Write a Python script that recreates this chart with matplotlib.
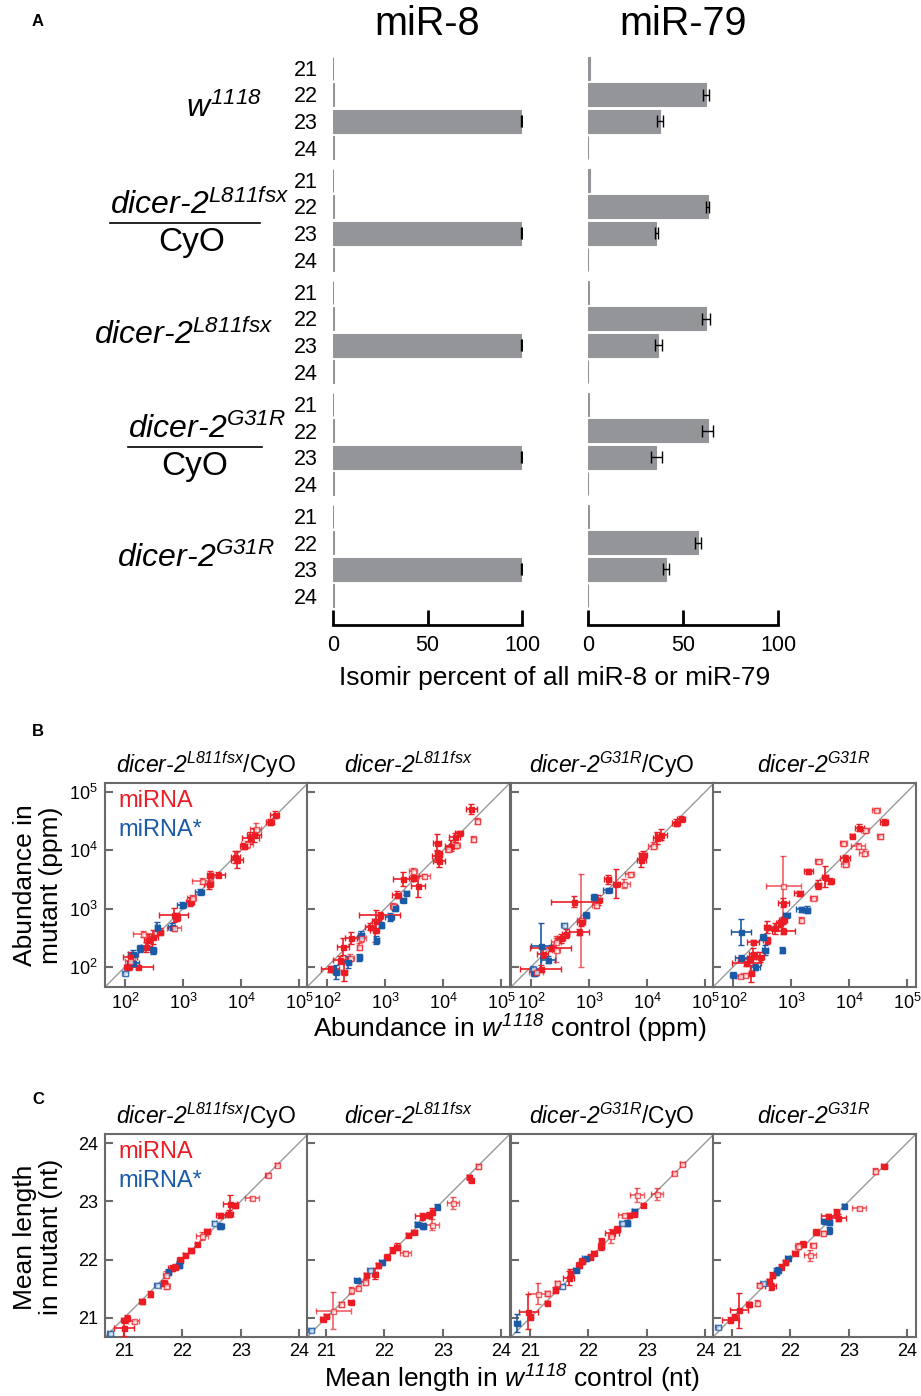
import numpy as np
import matplotlib
matplotlib.use('Agg')
import matplotlib.pyplot as plt
from matplotlib.lines import Line2D

plt.rcParams['font.family'] = ['Liberation Sans', 'DejaVu Sans']
plt.rcParams['mathtext.fontset'] = 'custom'
# math text is only used for the italic gene names; upright math uses \mathregular
plt.rcParams['mathtext.rm'] = 'Liberation Sans:italic'
plt.rcParams['mathtext.it'] = 'Liberation Sans:italic'
plt.rcParams['mathtext.bf'] = 'Liberation Sans:bold'

# ---------------- data ----------------
# panel A: isomir percent (21, 22, 23, 24 nt) per genotype
lengths = ['21', '22', '23', '24']
mir8 = [[0, 0.4, 99.6, 0.4]] * 5
mir8_err = [[0, 0, 0.3, 0]] * 5
mir79 = [[1.0, 62, 38, 0],
         [1.0, 63, 36, 0],
         [0.5, 62, 37, 0],
         [0.5, 63, 36, 0],
         [0.5, 58, 41, 0]]
mir79_err = [[0, 1.5, 1.5, 0],
             [0, 0.8, 0.8, 0],
             [0, 2.0, 2.0, 0],
             [0, 3.0, 3.0, 0],
             [0, 1.5, 1.5, 0]]

# panel B: (log10 control ppm, log10 mutant ppm, x err, y err, kind)
# kind: r = miRNA, R = miRNA (light), b = miRNA*, B = miRNA* (light)
B_L811_CYO = [
    (4.58, 4.61, .08, .06, 'r'), (4.50, 4.48, .07, .05, 'r'), (4.25, 4.37, .10, .10, 'R'),
    (4.22, 4.27, .12, .12, 'r'), (4.16, 4.21, .15, .10, 'r'), (4.10, 4.10, .10, .06, 'R'),
    (4.05, 4.07, .06, .05, 'r'), (3.90, 3.89, .08, .10, 'r'), (3.93, 3.84, .10, .15, 'r'),
    (3.61, 3.58, .12, .04, 'r'), (3.47, 3.58, .05, .06, 'r'), (3.44, 3.43, .07, .09, 'r'),
    (3.33, 3.47, .18, .05, 'R'), (3.29, 3.29, .08, .04, 'b'), (3.12, 3.12, .07, .08, 'r'),
    (3.15, 3.18, .08, .05, 'R'), (2.98, 3.06, .08, .05, 'b'), (2.89, 2.86, .05, .07, 'r'),
    (2.84, 2.89, .25, .12, 'r'), (2.81, 2.69, .06, .06, 'b'), (2.84, 2.66, .12, .04, 'R'),
    (2.60, 2.60, .05, .06, 'r'), (2.55, 2.69, .04, .08, 'b'), (2.49, 2.52, .08, .12, 'r'),
    (2.40, 2.46, .07, .10, 'r'), (2.32, 2.57, .18, .05, 'R'), (2.37, 2.34, .10, .08, 'r'),
    (2.26, 2.32, .06, .06, 'b'), (2.49, 2.29, .05, .06, 'b'), (2.14, 2.23, .08, .06, 'b'),
    (2.09, 2.17, .12, .08, 'r'), (2.23, 2.00, .25, .04, 'r'), (2.06, 2.00, .06, .05, 'r'),
    (2.14, 2.06, .10, .05, 'b'), (2.00, 1.89, .05, .04, 'B'), (2.09, 2.11, .08, .10, 'R'),
]
B_L811 = [
    (4.49, 4.71, .10, .08, 'r'), (4.59, 4.50, .04, .05, 'R'), (4.52, 4.19, .04, .05, 'R'),
    (4.28, 4.29, .07, .04, 'r'), (4.20, 4.22, .10, .08, 'r'), (4.14, 4.08, .10, .10, 'r'),
    (4.09, 4.02, .06, .05, 'R'), (4.22, 4.09, .08, .05, 'R'), (3.89, 4.13, .07, .15, 'r'),
    (3.93, 3.93, .06, .05, 'r'), (3.89, 3.90, .08, .10, 'r'), (3.93, 3.81, .10, .09, 'r'),
    (3.68, 3.56, .10, .04, 'R'), (3.48, 3.64, .07, .06, 'R'), (3.48, 3.53, .06, .05, 'r'),
    (3.31, 3.50, .18, .12, 'r'), (3.57, 3.38, .12, .18, 'r'), (3.37, 3.27, .05, .04, 'b'),
    (3.31, 3.15, .05, .04, 'b'), (3.20, 3.24, .08, .06, 'r'), (3.14, 3.04, .06, .05, 'R'),
    (3.17, 3.01, .05, .05, 'b'), (3.08, 2.85, .08, .07, 'b'), (2.91, 2.89, .35, .06, 'r'),
    (2.85, 2.78, .08, .20, 'r'), (2.94, 2.72, .05, .05, 'b'), (2.82, 2.63, .07, .20, 'r'),
    (2.85, 2.46, .04, .07, 'b'), (2.74, 2.69, .08, .06, 'r'), (2.59, 2.55, .05, .07, 'b'),
    (2.59, 2.49, .08, .07, 'R'), (2.42, 2.50, .10, .10, 'r'), (2.56, 2.35, .05, .06, 'R'),
    (2.28, 2.35, .10, .15, 'r'), (2.56, 2.17, .04, .06, 'b'), (2.39, 2.16, .08, .06, 'R'),
    (2.36, 2.09, .06, .10, 'b'), (2.22, 2.12, .12, .07, 'r'), (2.10, 1.97, .06, .05, 'b'),
    (2.05, 1.97, .15, .05, 'r'), (2.16, 1.91, .05, .12, 'b'), (2.30, 1.91, .05, .15, 'r'),
]
B_G31R_CYO = [
    (4.59, 4.54, .07, .04, 'r'), (4.50, 4.47, .07, .06, 'r'), (4.24, 4.27, .10, .10, 'r'),
    (4.18, 4.21, .08, .10, 'r'), (4.10, 4.08, .08, .06, 'R'), (3.93, 3.92, .07, .07, 'r'),
    (3.90, 3.84, .08, .12, 'r'), (3.70, 3.59, .08, .04, 'R'), (3.60, 3.43, .10, .08, 'R'),
    (3.47, 3.43, .06, .25, 'r'), (3.32, 3.50, .06, .08, 'r'), (3.32, 3.32, .08, .04, 'b'),
    (3.15, 3.15, .08, .08, 'r'), (3.12, 3.06, .06, .05, 'R'), (3.09, 3.20, .05, .05, 'b'),
    (2.95, 2.89, .05, .05, 'b'), (2.87, 2.80, .07, .80, 'R'), (2.75, 3.12, .40, .10, 'r'),
    (2.86, 2.77, .07, .06, 'r'), (2.83, 2.60, .17, .05, 'r'), (2.57, 2.72, .05, .04, 'B'),
    (2.60, 2.57, .06, .08, 'r'), (2.52, 2.49, .07, .08, 'r'), (2.43, 2.43, .08, .10, 'R'),
    (2.34, 2.32, .35, .05, 'r'), (2.43, 2.29, .07, .20, 'R'), (2.17, 2.36, .17, .40, 'b'),
    (2.20, 2.23, .10, .08, 'r'), (2.17, 1.97, .35, .06, 'r'), (2.03, 1.97, .05, .05, 'B'),
    (2.06, 1.89, .06, .04, 'b'), (2.09, 1.91, .12, .05, 'R'), (2.29, 2.12, .12, .06, 'b'),
]
B_G31R = [
    (4.47, 4.69, .07, .04, 'R'), (4.60, 4.48, .07, .05, 'r'), (4.53, 4.24, .05, .04, 'R'),
    (4.28, 4.34, .07, .05, 'R'), (4.18, 4.39, .08, .06, 'r'), (4.05, 4.25, .03, .03, 'r'),
    (3.90, 4.12, .06, .04, 'R'), (4.16, 4.08, .12, .05, 'R'), (4.25, 3.96, .08, .06, 'R'),
    (3.93, 3.86, .08, .06, 'r'), (3.93, 3.77, .07, .05, 'R'), (3.47, 3.81, .06, .04, 'R'),
    (3.30, 3.64, .08, .04, 'r'), (3.67, 3.47, .08, .05, 'r'), (3.59, 3.55, .05, .18, 'r'),
    (3.47, 3.41, .05, .08, 'r'), (3.38, 3.18, .06, .04, 'R'), (2.87, 3.38, .30, .52, 'R'),
    (2.87, 3.10, .10, .08, 'r'), (3.13, 3.26, .08, .05, 'r'), (3.18, 2.99, .10, .04, 'b'),
    (3.27, 2.98, .06, .06, 'b'), (3.17, 2.81, .04, .05, 'R'), (2.92, 2.89, .06, .04, 'b'),
    (2.87, 2.80, .07, .06, 'r'), (2.81, 2.75, .06, .06, 'r'), (2.72, 2.66, .06, .10, 'r'),
    (2.87, 2.62, .20, .05, 'r'), (2.58, 2.69, .05, .10, 'r'), (2.14, 2.60, .17, .23, 'b'),
    (2.58, 2.46, .06, .06, 'r'), (2.52, 2.51, .05, .05, 'b'), (2.35, 2.43, .10, .04, 'r'),
    (2.84, 2.29, .03, .05, 'b'), (2.55, 2.29, .05, .08, 'b'), (2.35, 2.23, .07, .10, 'r'),
    (2.46, 2.17, .07, .08, 'r'), (2.29, 2.14, .20, .04, 'r'), (2.14, 2.16, .10, .04, 'b'),
    (2.38, 2.00, .08, .05, 'b'), (2.23, 2.06, .25, .04, 'r'), (2.32, 1.89, .05, .15, 'r'),
    (2.20, 1.86, .06, .03, 'R'), (2.00, 1.87, .05, .04, 'b'), (2.12, 1.84, .06, .03, 'R'),
]

# panel C: (mean length control, mean length mutant, x err, y err, kind)
C_L811_CYO = [
    (23.62, 23.63, .04, .03, 'R'), (23.46, 23.45, .04, .04, 'R'), (23.20, 23.05, .12, .03, 'R'),
    (22.91, 22.93, .04, .04, 'r'), (22.81, 22.96, .12, .15, 'r'), (22.80, 22.79, .06, .06, 'r'),
    (22.65, 22.76, .08, .04, 'r'), (22.54, 22.63, .04, .04, 'B'), (22.65, 22.58, .06, .05, 'b'),
    (22.42, 22.49, .05, .04, 'r'), (22.34, 22.40, .10, .07, 'R'), (22.25, 22.26, .03, .03, 'r'),
    (22.14, 22.16, .05, .04, 'r'), (22.05, 22.08, .04, .04, 'r'), (21.96, 22.00, .05, .05, 'r'),
    (21.94, 21.91, .05, .06, 'b'), (21.88, 21.88, .05, .05, 'r'), (21.82, 21.85, .06, .05, 'r'),
    (21.76, 21.79, .04, .05, 'b'), (21.71, 21.74, .05, .06, 'R'), (21.68, 21.60, .05, .05, 'r'),
    (21.56, 21.56, .05, .04, 'B'), (21.71, 21.55, .08, .05, 'R'), (21.45, 21.41, .03, .05, 'r'),
    (21.30, 21.28, .04, .04, 'r'), (21.05, 21.00, .04, .05, 'r'), (20.99, 20.96, .04, .04, 'r'),
    (21.00, 20.83, .17, .15, 'r'), (21.16, 20.94, .10, .03, 'R'), (20.76, 20.74, .05, .04, 'B'),
]
C_L811 = [
    (23.61, 23.60, .04, .04, 'R'), (23.45, 23.42, .03, .03, 'r'), (23.48, 23.36, .03, .03, 'r'),
    (23.18, 22.97, .10, .10, 'R'), (22.90, 22.91, .04, .04, 'b'), (22.81, 22.82, .03, .06, 'r'),
    (22.76, 22.77, .04, .05, 'r'), (22.64, 22.74, .12, .06, 'r'), (22.82, 22.60, .12, .10, 'R'),
    (22.56, 22.61, .04, .04, 'b'), (22.66, 22.57, .05, .05, 'b'), (22.50, 22.47, .05, .03, 'r'),
    (22.41, 22.42, .04, .04, 'r'), (22.21, 22.22, .05, .06, 'r'), (22.13, 22.17, .04, .05, 'r'),
    (22.36, 22.11, .10, .04, 'R'), (22.04, 22.05, .04, .05, 'r'), (21.95, 21.95, .04, .04, 'b'),
    (21.89, 21.90, .04, .04, 'r'), (21.75, 21.82, .05, .04, 'B'), (21.83, 21.76, .04, .10, 'r'),
    (21.69, 21.73, .04, .04, 'r'), (21.66, 21.61, .06, .05, 'R'), (21.52, 21.64, .04, .03, 'b'),
    (21.55, 21.51, .03, .03, 'R'), (21.43, 21.47, .03, .06, 'R'), (21.42, 21.27, .04, .02, 'r'),
    (21.26, 21.23, .04, .04, 'R'), (21.12, 21.12, .30, .32, 'R'), (21.00, 21.03, .04, .04, 'r'),
    (20.94, 20.98, .04, .03, 'r'), (20.74, 20.79, .05, .04, 'B'),
]
C_G31R_CYO = [
    (23.61, 23.64, .04, .03, 'R'), (23.47, 23.48, .04, .03, 'R'), (23.18, 23.12, .10, .10, 'R'),
    (22.84, 23.10, .12, .12, 'R'), (22.93, 22.93, .03, .03, 'r'), (22.79, 22.83, .04, .04, 'b'),
    (22.79, 22.79, .04, .05, 'r'), (22.70, 22.76, .04, .04, 'r'), (22.61, 22.76, .10, .03, 'R'),
    (22.67, 22.63, .05, .05, 'b'), (22.57, 22.63, .04, .04, 'B'), (22.49, 22.53, .05, .04, 'r'),
    (22.41, 22.46, .12, .05, 'r'), (22.38, 22.40, .05, .12, 'R'), (22.22, 22.31, .04, .06, 'r'),
    (22.21, 22.23, .05, .06, 'r'), (22.09, 22.11, .04, .04, 'r'), (22.03, 22.05, .04, .04, 'r'),
    (21.95, 22.02, .06, .04, 'b'), (21.89, 21.97, .05, .05, 'r'), (21.83, 21.91, .05, .05, 'r'),
    (21.78, 21.82, .05, .04, 'b'), (21.69, 21.77, .05, .06, 'r'), (21.66, 21.68, .10, .12, 'r'),
    (21.55, 21.54, .05, .04, 'B'), (21.46, 21.59, .03, .04, 'R'), (21.43, 21.48, .04, .05, 'r'),
    (21.29, 21.42, .04, .04, 'R'), (21.13, 21.41, .17, .18, 'R'), (21.28, 21.26, .03, .03, 'r'),
    (20.97, 21.10, .17, .30, 'r'), (21.00, 21.02, .04, .04, 'r'), (20.77, 20.91, .05, .15, 'b'),
]
C_G31R = [
    (23.61, 23.61, .05, .03, 'r'), (23.45, 23.52, .03, .05, 'R'), (23.18, 22.88, .12, .03, 'R'),
    (22.92, 22.92, .03, .04, 'b'), (22.79, 22.81, .04, .05, 'r'), (22.82, 22.72, .13, .06, 'r'),
    (22.57, 22.67, .05, .03, 'b'), (22.67, 22.64, .04, .04, 'b'), (22.64, 22.74, .12, .04, 'r'),
    (22.67, 22.50, .03, .06, 'b'), (22.56, 22.45, .04, .04, 'R'), (22.44, 22.47, .05, .05, 'r'),
    (22.38, 22.25, .05, .03, 'R'), (22.33, 22.07, .10, .10, 'R'), (22.21, 22.27, .04, .05, 'r'),
    (22.13, 22.23, .05, .05, 'R'), (22.07, 22.11, .04, .04, 'r'), (21.95, 22.02, .05, .04, 'b'),
    (21.91, 21.95, .04, .04, 'r'), (21.84, 21.88, .04, .04, 'r'), (21.78, 21.82, .04, .05, 'b'),
    (21.75, 21.79, .04, .06, 'b'), (21.69, 21.74, .04, .05, 'r'), (21.63, 21.63, .03, .04, 'r'),
    (21.66, 21.54, .10, .06, 'r'), (21.52, 21.59, .04, .03, 'B'), (21.46, 21.56, .04, .04, 'R'),
    (21.43, 21.25, .03, .05, 'R'), (21.28, 21.23, .04, .04, 'r'), (21.12, 21.13, .15, .30, 'r'),
    (21.03, 21.02, .04, .04, 'r'), (20.97, 20.97, .15, .05, 'r'), (20.76, 20.84, .05, .04, 'B'),
]

titles = [r'$dicer\text{-}2^{L811fsx}$/CyO',
          r'$dicer\text{-}2^{L811fsx}$',
          r'$dicer\text{-}2^{G31R}$/CyO',
          r'$dicer\text{-}2^{G31R}$']
B_sets = [B_L811_CYO, B_L811, B_G31R_CYO, B_G31R]
C_sets = [C_L811_CYO, C_L811, C_G31R_CYO, C_G31R]

RED = '#EC1C24'
BLUE = '#1B5AA6'
BAR = '#939598'
SPINE = '#6a6a6a'

W, H = 921, 1396
fig = plt.figure(figsize=(W / 100, H / 100), dpi=100)


def ax_at(x0, y0, x1, y1):
    return fig.add_axes([x0 / W, 1 - y1 / H, (x1 - x0) / W, (y1 - y0) / H])


def ftext(x, y, s, **kw):
    fig.text(x / W, 1 - y / H, s, **kw)


# ---------------- panel A ----------------
row_y = [68 + g * 112 + i * 26.5 for g in range(5) for i in range(4)]
for x0, x1, vals, errs, name, cx in [(333, 522, mir8, mir8_err, 'miR-8', 427),
                                      (588, 778, mir79, mir79_err, 'miR-79', 683)]:
    ax = ax_at(x0, 50, x1, 625)
    v = np.ravel(vals)
    e = np.ravel(errs)
    ax.barh(row_y, v, height=23, color=BAR, edgecolor=BAR, linewidth=0.8,
            xerr=np.where(e > 0, e, np.nan),
            error_kw=dict(ecolor='black', elinewidth=1, capsize=4, capthick=1))
    ax.set_xlim(0, 100)
    ax.set_ylim(625, 50)
    for s in ['left', 'top', 'right']:
        ax.spines[s].set_visible(False)
    ax.spines['bottom'].set_linewidth(2)
    ax.set_xticks([0, 50, 100])
    ax.tick_params(axis='x', direction='in', length=11, width=2, labelsize=15.5, pad=7)
    if name == 'miR-8':
        ax.set_yticks(row_y)
        ax.set_yticklabels(lengths * 5, fontsize=15.5)
        ax.tick_params(axis='y', length=0, pad=11)
    else:
        ax.set_yticks([])
    ftext(cx, 24, name, fontsize=28.5, ha='center', va='center')

ftext(555, 678, 'Isomir percent of all miR-8 or miR-79', fontsize=19, ha='center', va='center')
ftext(38, 22, 'A', fontsize=12, fontweight='bold', ha='center', va='center')

geno_it = r'$dicer\text{-}2^{%s}$'
ftext(262, 108, r'$w^{1118}$', fontsize=23, ha='right', va='center')
ftext(110, 205, geno_it % 'L811fsx', fontsize=23, ha='left', va='center')
ftext(192, 243, 'CyO', fontsize=24, ha='center', va='center')
ftext(273, 335, geno_it % 'L811fsx', fontsize=23, ha='right', va='center')
ftext(128, 429, geno_it % 'G31R', fontsize=23, ha='left', va='center')
ftext(195, 467, 'CyO', fontsize=24, ha='center', va='center')
ftext(275, 558, geno_it % 'G31R', fontsize=23, ha='right', va='center')
for lx0, lx1, ly in [(110, 260, 223), (128, 262, 447)]:
    fig.add_artist(Line2D([lx0 / W, lx1 / W], [1 - ly / H, 1 - ly / H],
                          transform=fig.transFigure, color='black', lw=1.2))


# ---------------- panels B and C ----------------
def draw_points(ax, pts, logscale):
    for x, y, xe, ye, k in pts:
        col = RED if k in 'rR' else BLUE
        light = k in 'RB'
        if logscale:
            X, Y = 10 ** x, 10 ** y
            xerr = [[X - 10 ** (x - xe)], [10 ** (x + xe) - X]]
            yerr = [[Y - 10 ** (y - ye)], [10 ** (y + ye) - Y]]
        else:
            X, Y = x, y
            xerr, yerr = xe, ye
        ax.errorbar(X, Y, xerr=xerr, yerr=yerr, fmt='s', ms=3.6,
                    mfc='white' if light else col, mec=col, mew=1.0,
                    ecolor=col, elinewidth=1.2, capsize=2.5, capthick=1.2,
                    alpha=0.7 if light else 1.0, zorder=3)


lefts = [105, 307, 511, 713]
for row, (sets, top, bot, logscale) in enumerate([(B_sets, 783, 987, True),
                                                   (C_sets, 1134, 1337, False)]):
    for i, pts in enumerate(sets):
        ax = ax_at(lefts[i], top, lefts[i] + 203, bot)
        if logscale:
            lo, hi = 10 ** 1.657, 10 ** 5.154
            ax.set_xscale('log')
            ax.set_yscale('log')
            ticks = [1e2, 1e3, 1e4, 1e5]
            labels = [r'$\mathregular{10^{%d}}$' % n for n in range(2, 6)]
        else:
            lo, hi = 20.67, 24.155
            ticks = [21, 22, 23, 24]
            labels = ['21', '22', '23', '24']
        ax.plot([lo, hi], [lo, hi], color='#9a9a9a', lw=1, zorder=1)
        draw_points(ax, pts, logscale)
        ax.set_xlim(lo, hi)
        ax.set_ylim(lo, hi)
        ax.minorticks_off()
        ax.set_xticks(ticks)
        ax.set_xticklabels(labels)
        ax.set_yticks(ticks)
        ax.set_yticklabels(labels if i == 0 else [])
        ax.tick_params(direction='in', length=6, width=1.5, color=SPINE,
                       labelsize=13, pad=4)
        ax.tick_params(axis='y', pad=5)
        for s in ax.spines.values():
            s.set_color(SPINE)
            s.set_linewidth(1.5)
        ftext(lefts[i] + 101, top - 18, titles[i], fontsize=16.5, ha='center', va='center')
        if i == 0:
            ax.text(0.065, 0.91, 'miRNA', color=RED, fontsize=17, transform=ax.transAxes,
                    ha='left', va='center')
            ax.text(0.065, 0.77, 'miRNA*', color=BLUE, fontsize=17, transform=ax.transAxes,
                    ha='left', va='center')

ftext(38, 731, 'B', fontsize=12, fontweight='bold', ha='center', va='center')
ftext(38, 1100, 'C', fontsize=12, fontweight='bold', ha='center', va='center')
ftext(38, 885, 'Abundance in\nmutant (ppm)', fontsize=19, rotation=90,
      ha='center', va='center', linespacing=1.1)
ftext(510, 1029, r'Abundance in $w^{1118}$ control (ppm)', fontsize=19,
      ha='center', va='center')
ftext(38, 1237, 'Mean length\nin mutant (nt)', fontsize=19, rotation=90,
      ha='center', va='center', linespacing=1.1)
ftext(512, 1379, r'Mean length in $w^{1118}$ control (nt)', fontsize=19,
      ha='center', va='center')

fig.savefig('out.png', dpi=100)
